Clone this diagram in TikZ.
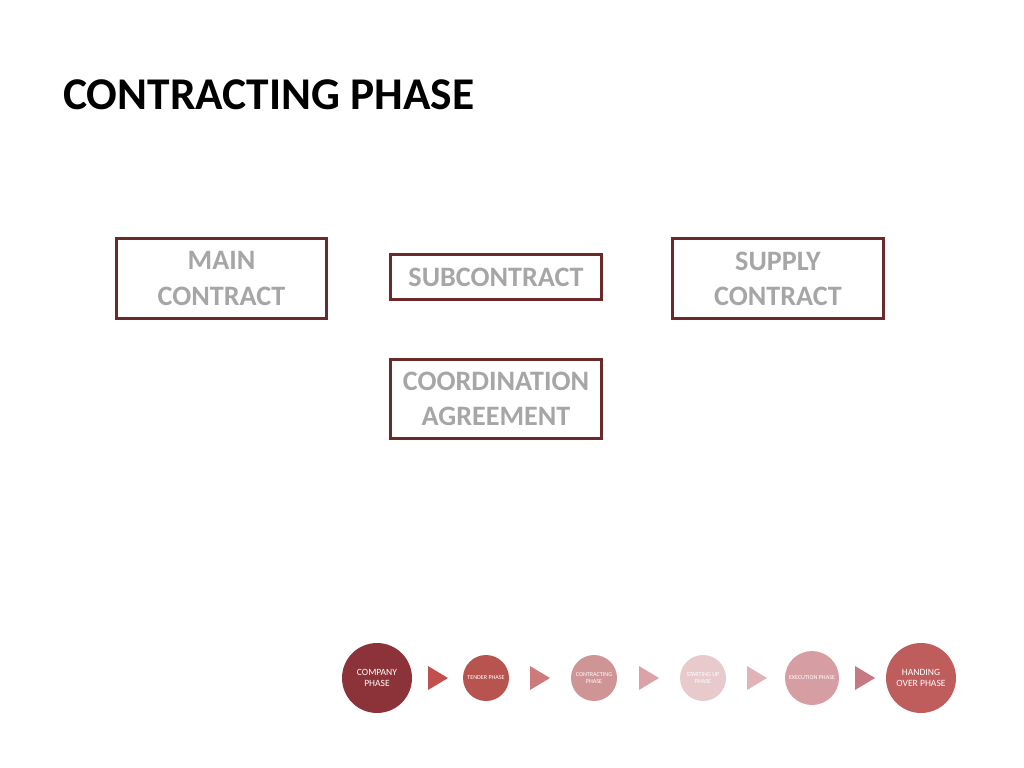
\documentclass[tikz,border=0pt]{standalone}
\usepackage{fontspec}
\setmainfont{Carlito}
\begin{document}
\begin{tikzpicture}[x=0.025cm,y=-0.025cm,
  box/.style={draw=boxred,line width=2.6pt,fill=white,text=txtgray,font=\bfseries\fontsize{20}{25}\selectfont,align=center,inner sep=0pt},
  ph/.style={circle,minimum size=#1,inner sep=0pt,text=white,align=center},
  tri/.style={fill=#1,draw=none}]
\definecolor{boxred}{HTML}{6B2A2A}
\definecolor{txtgray}{HTML}{A6A6A6}
\useasboundingbox (0,0) rectangle (1024,768);
\node[anchor=west,inner sep=0pt,font=\bfseries\fontsize{32.3}{38}\selectfont] (title) at (63,95) {CONTRACTING PHASE};
\node[box,minimum width=210*0.025cm,minimum height=80*0.025cm] (main) at (221.5,278.5) {MAIN\\CONTRACT};
\node[box,minimum width=211*0.025cm,minimum height=45*0.025cm] (sub) at (496,277) {SUBCONTRACT};
\node[box,minimum width=211*0.025cm,minimum height=80*0.025cm] (supply) at (778,278.5) {SUPPLY\\CONTRACT};
\node[box,minimum width=211*0.025cm,minimum height=79*0.025cm] (coord) at (496,399) {COORDINATION\\AGREEMENT};
\definecolor{c1}{HTML}{8B3338}\definecolor{c2}{HTML}{B85450}\definecolor{c3}{HTML}{CF9496}
\definecolor{c4}{HTML}{E8CACD}\definecolor{c5}{HTML}{D69EA2}\definecolor{c6}{HTML}{BF5C5C}
\node[ph=70*0.025cm,fill=c1,font=\fontsize{6.8}{8}\selectfont] (p1) at (377,678) {COMPANY\\PHASE};
\node[ph=46*0.025cm,fill=c2,font=\fontsize{4.3}{5}\selectfont] (p2) at (486,678) {TENDER PHASE};
\node[ph=46*0.025cm,fill=c3,font=\fontsize{4.3}{5}\selectfont] (p3) at (594,678) {CONTRACTING\\PHASE};
\node[ph=46*0.025cm,fill=c4,font=\fontsize{4.3}{5}\selectfont] (p4) at (703,678) {STARTING UP\\PHASE};
\node[ph=54*0.025cm,fill=c5,font=\fontsize{4.3}{5}\selectfont] (p5) at (812,678) {EXECUTION PHASE};
\node[ph=70*0.025cm,fill=c6,font=\fontsize{6.8}{8}\selectfont] (p6) at (921,678) {HANDING\\OVER PHASE};
\foreach \x/\c in {428/C0504D,530/CC7A7A,639/D9A3A8,747/E0B3B8,855/C87880}{
  \definecolor{tc}{HTML}{\c}
  \fill[tc] (\x,666) -- (\x+20,678) -- (\x,690) -- cycle;}
\end{tikzpicture}
\end{document}
